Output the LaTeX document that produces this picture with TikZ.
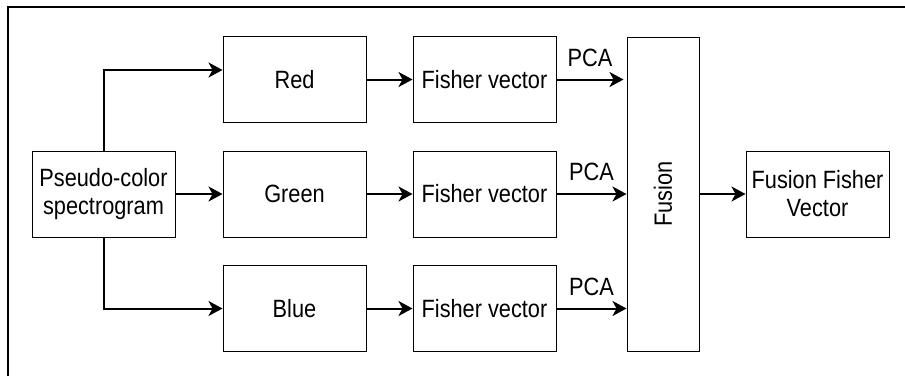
\documentclass[tikz,border=0pt]{standalone}
\usepackage{fontspec}
\setmainfont{Liberation Sans}[FakeStretch=0.87]
\usetikzlibrary{arrows.meta,calc}
\begin{document}
\begin{tikzpicture}[x=1pt,y=-1pt,
  blk/.style={draw=black,line width=1pt,minimum width=143pt,minimum height=86pt,inner sep=0pt,align=center,font=\fontsize{25}{28}\selectfont},
  conn/.style={line width=2pt,-{Stealth[length=14pt,width=15pt,inset=4pt]}},
  lbl/.style={font=\fontsize{25}{28}\selectfont,inner sep=0pt}]
\useasboundingbox (0,0) rectangle (905,376);
\draw[line width=2pt] (8,376) -- (8,7) -- (905,7);
\node[blk] (src) at (103.5,194) {Pseudo-color\\spectrogram};
\node[blk] (red) at (294.5,79.5) {Red};
\node[blk] (green) at (294.5,194) {Green};
\node[blk] (blue) at (294.5,308.5) {Blue};
\node[blk] (fv1) at (484.5,79.5) {Fisher vector};
\node[blk] (fv2) at (484.5,194) {Fisher vector};
\node[blk] (fv3) at (484.5,308.5) {Fisher vector};
\node[blk,minimum width=72pt,minimum height=314pt] (fus) at (663,194) {};
\node[lbl,rotate=90] (fustext) at (fus.center) {Fusion};
\node[blk] (ffv) at (817.5,194) {Fusion Fisher\\Vector};
\draw[conn] (src.north) |- ([yshift=9.5pt]red.west);
\draw[conn] (src.east) -- (green.west);
\draw[conn] (src.south) |- (blue.west);
\draw[conn] (red.east) -- (fv1.west);
\draw[conn] (green.east) -- (fv2.west);
\draw[conn] (blue.east) -- (fv3.west);
\draw[conn] (fv1.east) -- ([xshift=-3pt]fv1.east -| fus.west) node[lbl,pos=0.5,above=12pt] (pca1) {PCA};
\draw[conn] (fv2.east) -- (fv2.east -| fus.west) node[lbl,pos=0.5,above=12pt] (pca2) {PCA};
\draw[conn] (fv3.east) -- (fv3.east -| fus.west) node[lbl,pos=0.5,above=12pt] (pca3) {PCA};
\draw[conn] (fus.east |- ffv.west) -- (ffv.west);
\end{tikzpicture}
\end{document}
